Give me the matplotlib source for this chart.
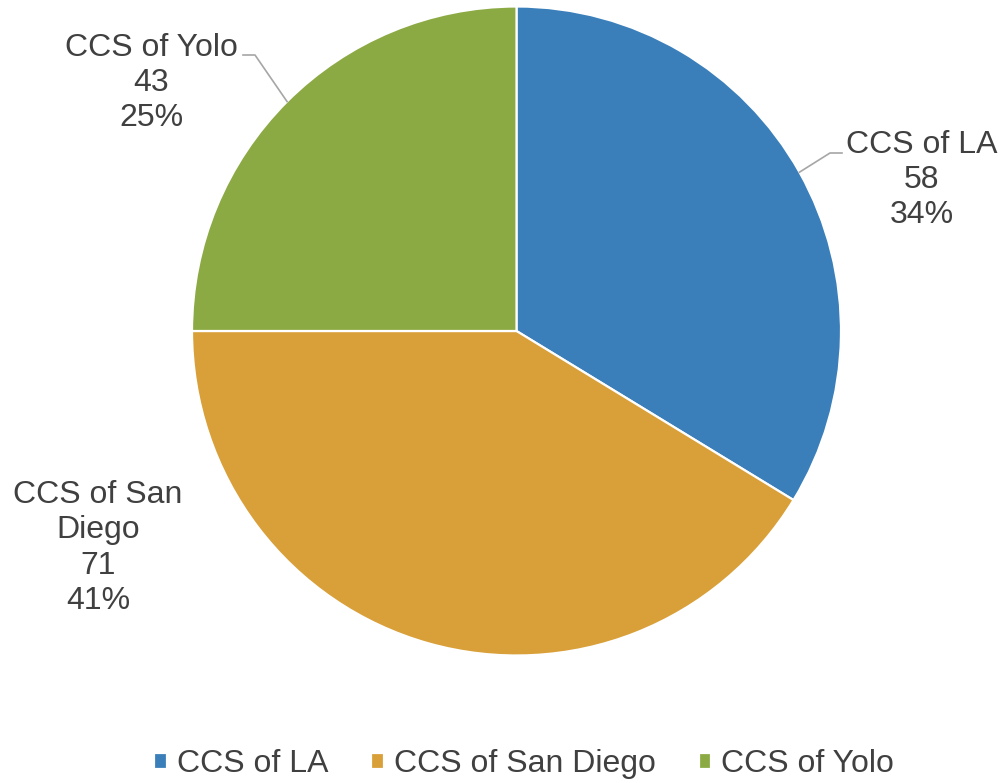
import matplotlib.pyplot as plt
import numpy as np

plt.rcParams['font.family'] = ['Liberation Sans', 'DejaVu Sans']

names = ["CCS of LA", "CCS of San Diego", "CCS of Yolo"]
label_text = ["CCS of LA", "CCS of San\nDiego", "CCS of Yolo"]
values = [58, 71, 43]
colors = ["#3A7FBA", "#D99F38", "#8CAA44"]
txt_color = "#404040"

W, H = 1002, 783
fig = plt.figure(figsize=(W / 100, H / 100), dpi=100)
ax = fig.add_axes([0, 0, 1, 1])
ax.set_xlim(0, W)
ax.set_ylim(0, H)
ax.set_aspect("equal")
ax.axis("off")

cx, cy, r = 516.5, H - 331, 324.5
wedges, _ = ax.pie(values, colors=colors, startangle=90, counterclock=False,
                   center=(cx, cy), radius=r,
                   wedgeprops=dict(edgecolor="white", linewidth=1.6))
ax.set_xlim(0, W)
ax.set_ylim(0, H)

total = sum(values)
# label block centers (pixels, top-origin) and leader elbow/end
label_pos = [(922, 180), (98, 548), (151, 83)]
elbows = [(830, 153), None, (255, 55)]
ends = [(842, 153), None, (243, 55)]

for i, w in enumerate(wedges):
    pct = round(values[i] / total * 100)
    s = "%s\n%d\n%d%%" % (label_text[i], values[i], pct)
    lx, ly = label_pos[i]
    ax.text(lx, H - ly, s, ha="center", va="center", fontsize=23,
            color=txt_color, linespacing=1.22)
    if elbows[i] is not None:
        ang = np.deg2rad((w.theta1 + w.theta2) / 2)
        px, py = cx + r * np.cos(ang), cy + r * np.sin(ang)
        ex, ey = elbows[i]
        tx, ty = ends[i]
        ax.plot([px, ex, tx], [py, H - ey, H - ty], color="#A6A6A6", lw=1.2)

leg = fig.legend(wedges, names, loc="center", bbox_to_anchor=(0.523, 1 - 764 / H),
                 ncol=3, frameon=False, fontsize=23, handlelength=0.4,
                 handleheight=0.4, handletextpad=0.3, columnspacing=1.35)
for t in leg.get_texts():
    t.set_color(txt_color)

fig.savefig("out.png", dpi=100)
